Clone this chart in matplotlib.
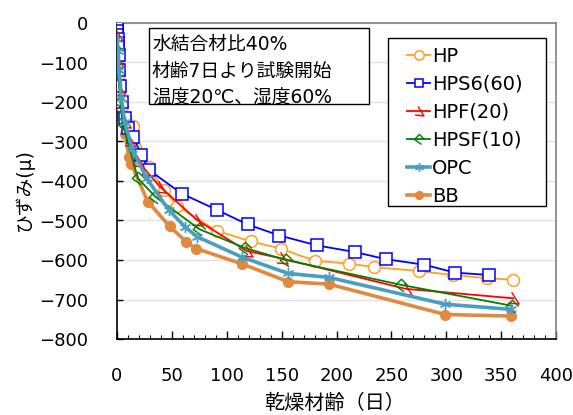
import matplotlib
matplotlib.use("Agg")
import matplotlib.pyplot as plt
from matplotlib.path import Path
from matplotlib.patches import Rectangle
from matplotlib.ticker import MultipleLocator

plt.rcParams['font.family'] = ['DejaVu Sans', 'Noto Sans CJK JP']

# ---- data ----
hp_days = [0, 1, 2, 3, 5, 7, 15, 29, 43, 55, 91, 122, 149, 180, 211, 234, 275, 306, 337, 361]
hp_vals = [-20, -80, -130, -170, -210, -240, -262, -365, -423, -464, -526, -553, -571, -602, -609, -618, -628, -638, -646, -650]

hps_days = [0, 0, 0.2, 0.4, 0.6, 0.8, 1, 1.5, 2, 3, 5, 7, 10, 15, 22, 29, 59, 91, 119, 148, 182, 217, 245, 280, 308, 339]
hps_vals = [0, -10, -20, -30, -40, -50, -60, -80, -120, -160, -200, -240, -265, -288, -333, -372, -432, -473, -510, -538, -563, -580, -598, -612, -632, -638]

hpf_days = [0, 1, 3, 7, 12, 19, 39, 73, 118, 150, 263, 361]
hpf_vals = [-30, -100, -170, -250, -300, -350, -414, -499, -577, -596, -673, -697]

hpsf_days = [0, 1, 3, 5, 19, 35, 75, 117, 154, 259, 360]
hpsf_vals = [-70, -130, -200, -254, -393, -440, -522, -570, -600, -663, -716]

opc_days = [0, 1, 2, 4, 7, 14, 27, 47, 62, 73, 114, 156, 193, 299, 359]
opc_vals = [-40, -70, -120, -190, -250, -320, -393, -473, -516, -541, -593, -634, -644, -712, -725]

bb_days = [1, 2, 4, 7, 11, 13, 28, 48, 63, 72, 114, 156, 193, 299, 359]
bb_vals = [-95, -150, -215, -280, -338, -357, -452, -515, -554, -571, -610, -655, -661, -738, -742]

labels = ['HP', 'HPS6(60)', 'HPF(20)', 'HPSF(10)', 'OPC', 'BB']
note_lines = ['水結合材比40%', '材齢7日より試験開始', '温度20℃、湿度60%']

# ---- markers ----
hook = Path([(-0.15, 0.5), (0.45, -0.45), (-0.45, -0.35)], [Path.MOVETO, Path.LINETO, Path.LINETO])
chev = Path([(0.2, -0.5), (-0.5, 0.0), (0.0, 0.5), (0.5, 0.0)],
            [Path.MOVETO, Path.LINETO, Path.LINETO, Path.LINETO])

W, H = 573, 415
fig = plt.figure(figsize=(W / 100, H / 100), dpi=100)
L, R, T, B = 117, 556, 23, 339
ax = fig.add_axes([L / W, 1 - B / H, (R - L) / W, (B - T) / H])

ax.plot(hp_days, hp_vals, color='#FFA020', lw=1.3, marker='o', ms=8.5,
        mfc='white', mec='#FFA020', mew=1.1, label=labels[0], zorder=3)
ax.plot(hps_days, hps_vals, color='#0000FF', lw=1.3, marker='s', ms=8,
        mfc='white', mec='#0000FF', mew=1.1, label=labels[1], zorder=3)
ax.plot(hpf_days, hpf_vals, color='#FF0000', lw=1.3, marker=hook, ms=9,
        mfc='none', mec='#FF0000', mew=1.0, label=labels[2], zorder=3)
ax.plot(hpsf_days, hpsf_vals, color='#008000', lw=1.3, marker=chev, ms=9,
        mfc='none', mec='#008000', mew=1.0, label=labels[3], zorder=3)
ax.plot(opc_days, opc_vals, color='#4A9FC0', lw=2.6, marker=(6, 2, 0), ms=8,
        mec='#4A9FC0', mew=1.0, label=labels[4], zorder=4)
ax.plot(bb_days, bb_vals, color='#E0893F', lw=2.6, marker='o', ms=7,
        mfc='#E0893F', mec='#E0893F', label=labels[5], zorder=2)

ax.set_xlim(0, 400)
ax.set_ylim(-800, 0)
ax.xaxis.set_major_locator(MultipleLocator(50))
ax.xaxis.set_minor_locator(MultipleLocator(10))
ax.yaxis.set_major_locator(MultipleLocator(100))
ax.tick_params(axis='x', which='major', direction='in', length=6, width=1, pad=20, labelsize=13)
ax.tick_params(axis='x', which='minor', direction='in', length=3, width=0.8)
ax.tick_params(axis='y', which='major', direction='in', length=4, width=1, pad=21, labelsize=13)
ax.grid(axis='y', color='#E3E3E3', lw=1)
ax.set_axisbelow(True)
for s in ['left', 'bottom']:
    ax.spines[s].set_color('black')
    ax.spines[s].set_linewidth(1.2)
for s in ['top', 'right']:
    ax.spines[s].set_color('#808080')
    ax.spines[s].set_linewidth(1.2)

fig.text(335 / W, 1 - 403 / H, '乾燥材齢（日）', ha='center', va='center', fontsize=14.5)
fig.text(24 / W, 1 - 190 / H, 'ひずみ(μ)', ha='center', va='center', fontsize=13.5, rotation=90)

# note box
ax.add_patch(Rectangle((149 / W, 1 - 104 / H), (369 - 149) / W, (104 - 28) / H,
                       transform=fig.transFigure, fill=True, fc='white',
                       ec='black', lw=1, zorder=8, clip_on=False))
for i, t in enumerate(note_lines):
    ax.text(152 / W, 1 - (44 + 27 * i) / H, t, transform=fig.transFigure,
            ha='left', va='center', fontsize=13.5, zorder=9)

# legend frame + legend
ax.add_patch(Rectangle((388 / W, 1 - 206 / H), (546 - 388) / W, (206 - 38) / H,
                       transform=fig.transFigure, fill=True, fc='white',
                       ec='black', lw=1, zorder=8, clip_on=False))
leg = ax.legend(loc='upper left', bbox_to_anchor=(407 / W, 1 - 47 / H),
                bbox_transform=fig.transFigure, fontsize=14,
                frameon=False, handlelength=1.2, handletextpad=0.1, labelspacing=0.46,
                borderpad=0, borderaxespad=0, markerscale=0.8)
leg.set_zorder(10)

fig.savefig('out.png', dpi=100)
